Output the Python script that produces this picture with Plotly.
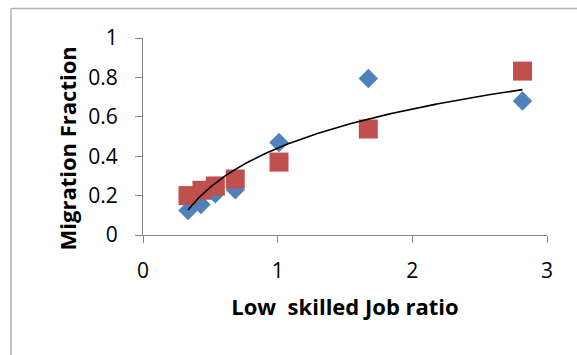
import numpy as np
import plotly.graph_objects as go

# Low-skilled job ratio vs migration fraction, two series
ratio_blue = [0.334, 0.430, 0.537, 0.685, 1.010, 1.673, 2.818]
frac_blue = [0.125, 0.155, 0.210, 0.230, 0.470, 0.795, 0.680]

ratio_red = [0.334, 0.438, 0.537, 0.685, 1.010, 1.673, 2.818]
frac_red = [0.200, 0.227, 0.249, 0.284, 0.370, 0.538, 0.832]

x_ticks = [0, 1, 2, 3]
y_ticks = [0, 0.2, 0.4, 0.6, 0.8, 1]

# logarithmic trendline fitted to the red series: y = a + b*ln(x)
b, a = np.polyfit(np.log(ratio_red), frac_red, 1)
trend_x = np.linspace(min(ratio_red), max(ratio_red), 200)
trend_y = a + b * np.log(trend_x)

FONT = "Open Sans"
AXIS_GREY = "#868686"

fig = go.Figure()
fig.add_trace(go.Scatter(
    x=ratio_blue, y=frac_blue, mode="markers",
    marker=dict(symbol="diamond", size=15, color="#4f81bd",
                line=dict(width=0)),
    cliponaxis=False, showlegend=False,
))
fig.add_trace(go.Scatter(
    x=ratio_red, y=frac_red, mode="markers",
    marker=dict(symbol="square", size=19, color="#c0504d",
                line=dict(width=0)),
    cliponaxis=False, showlegend=False,
))
fig.add_trace(go.Scatter(
    x=trend_x, y=trend_y, mode="lines",
    line=dict(color="black", width=1.6),
    cliponaxis=False, showlegend=False,
))

L, R, T, B = 143, 30, 38, 120
W, H = 577, 355
pw, ph = W - L - R, H - T - B


def px_to_paper(px, py):
    return (px - L) / pw, 1 - (py - T) / ph


# chart-area frame (left and top edges visible)
fx0, fy1 = px_to_paper(11, 8.5)
fig.add_shape(type="line", xref="paper", yref="paper",
              x0=fx0, x1=fx0, y0=-2, y1=fy1,
              line=dict(color="#b3b3b3", width=1.5))
fig.add_shape(type="line", xref="paper", yref="paper",
              x0=fx0, x1=3, y0=fy1, y1=fy1,
              line=dict(color="#b3b3b3", width=1.5))

# vertical axis title, placed a little below the plot-area centre
tx, ty = px_to_paper(66, 148.5)
fig.add_annotation(
    text="Migration Fraction", textangle=-90, showarrow=False,
    xref="paper", yref="paper", x=tx, y=ty,
    xanchor="center", yanchor="middle",
    font=dict(family=FONT, size=22, weight="bold", color="black"),
)

fig.update_layout(
    width=W, height=H,
    margin=dict(l=L, r=R, t=T, b=B, pad=0),
    paper_bgcolor="white", plot_bgcolor="white",
    font=dict(family=FONT, color="black"),
    xaxis=dict(
        range=[0, 3], tickvals=x_ticks, showgrid=False, zeroline=False,
        showline=True, linecolor=AXIS_GREY, linewidth=1,
        ticks="outside", ticklen=7, tickcolor=AXIS_GREY, tickwidth=1,
        tickfont=dict(family=FONT, size=21, color="black"),
        ticklabelstandoff=10,
        title=dict(text="Low \u00a0skilled Job ratio", standoff=16,
                   font=dict(family=FONT, size=22, weight="bold",
                             color="black")),
    ),
    yaxis=dict(
        range=[0, 1], tickvals=y_ticks, showgrid=False, zeroline=False,
        showline=True, linecolor=AXIS_GREY, linewidth=1,
        ticks="outside", ticklen=7, tickcolor=AXIS_GREY, tickwidth=1,
        tickfont=dict(family=FONT, size=21, color="black"),
        ticklabelstandoff=13,
    ),
)

fig.write_html("out.html")
